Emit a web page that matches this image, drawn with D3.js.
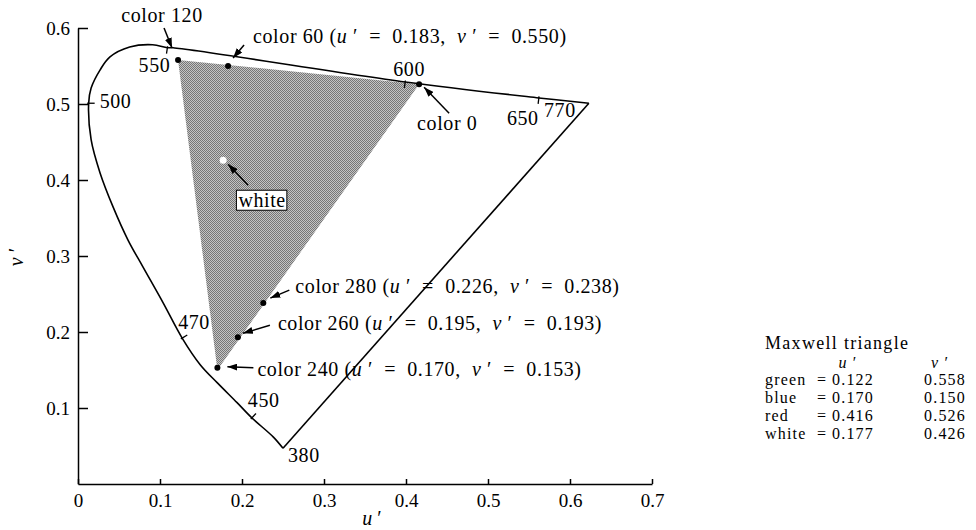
<!DOCTYPE html>
<html>
<head>
<meta charset="utf-8">
<script src="https://cdn.jsdelivr.net/npm/d3@7"></script>
<style>
  body { margin: 0; background: #fff; }
  svg { display: block; font-family: "Liberation Serif", "Times New Roman", serif; }
  text { white-space: pre; }
</style>
</head>
<body>
<div id="chart"></div>
<script>

// spectral locus as drawn in the figure, 380 nm round to 770 nm
var locusU = [0.250, 0.238, 0.212, 0.194, 0.170, 0.149, 0.127, 0.104, 0.079, 0.061, 0.043, 0.027, 0.016,
              0.013, 0.016, 0.027, 0.039, 0.063, 0.091, 0.109, 0.116, 0.399, 0.562, 0.623];
var locusV = [0.047, 0.062, 0.087, 0.107, 0.133, 0.157, 0.192, 0.238, 0.286, 0.321, 0.364, 0.409, 0.453,
              0.501, 0.521, 0.545, 0.562, 0.575, 0.578, 0.574, 0.574, 0.529, 0.508, 0.501];

// wavelength marks (nm) along the locus
var markNm = [380, 450, 470, 500, 550, 600, 650, 770];
var markU  = [0.250, 0.212, 0.127, 0.013, 0.109, 0.399, 0.562, 0.623];
var markV  = [0.047, 0.087, 0.192, 0.501, 0.574, 0.529, 0.508, 0.501];

// Maxwell triangle
var primNames = ["green", "blue", "red", "white"];
var primU = [0.122, 0.170, 0.416, 0.177];
var primV = [0.558, 0.150, 0.526, 0.426];

// labelled colours
var colorNames = ["color 120", "color 60", "color 0", "color 280", "color 260", "color 240"];
var colorU = [0.122, 0.183, 0.416, 0.226, 0.195, 0.170];
var colorV = [0.558, 0.550, 0.526, 0.238, 0.193, 0.153];
var colorShowUV = [false, true, false, true, true, true];

var xTicks = [0, 0.1, 0.2, 0.3, 0.4, 0.5, 0.6, 0.7];
var yTicks = [0.1, 0.2, 0.3, 0.4, 0.5, 0.6];

var width = 976, height = 530;

var svg = d3.select("#chart")
  .append("svg")
    .attr("width", width)
    .attr("height", height);

var x = d3.scaleLinear().domain([0, 0.7]).range([78, 652]);
var y = d3.scaleLinear().domain([0, 0.6]).range([484, 28]);

// halftone for the triangle
var defs = svg.append("defs");
var pat = defs.append("pattern")
    .attr("id", "dots")
    .attr("width", 2).attr("height", 2)
    .attr("patternUnits", "userSpaceOnUse");
pat.append("rect").attr("width", 2).attr("height", 2).attr("fill", "#c4c4c4");
pat.append("rect").attr("width", 1).attr("height", 1).attr("fill", "#767676").attr("shape-rendering", "crispEdges");
pat.append("rect").attr("x", 1).attr("y", 1).attr("width", 1).attr("height", 1).attr("fill", "#767676")
    .attr("shape-rendering", "crispEdges");

defs.append("marker")
    .attr("id", "head")
    .attr("markerUnits", "userSpaceOnUse")
    .attr("viewBox", "0 0 10 7")
    .attr("markerWidth", 10).attr("markerHeight", 7)
    .attr("refX", 10).attr("refY", 3.5)
    .attr("orient", "auto")
  .append("path")
    .attr("d", "M0,0 L10,3.5 L0,7 Z")
    .attr("fill", "#000");

// axes
var xAxis = svg.append("g")
    .attr("transform", "translate(0," + y(0) + ")")
    .call(d3.axisBottom(x).tickValues(xTicks).tickSizeInner(-5).tickSizeOuter(0).tickPadding(10)
      .tickFormat(function(d) { return String(d); }));
var yAxis = svg.append("g")
    .attr("transform", "translate(" + x(0) + ",0)")
    .call(d3.axisLeft(y).tickValues(yTicks).tickSizeInner(-10).tickSizeOuter(0).tickPadding(8)
      .tickFormat(d3.format(".1f")));
[xAxis, yAxis].forEach(function(g) {
  g.attr("font-family", null).attr("font-size", 19);
  g.selectAll("path, line").attr("stroke", "#000").attr("stroke-width", 1.5);
  g.selectAll("text").attr("fill", "#000");
});

svg.append("text")
    .attr("x", 372).attr("y", 518)
    .attr("text-anchor", "middle").attr("dominant-baseline", "central")
    .attr("font-size", 20)
  .call(function(t) {
    t.append("tspan").attr("font-style", "italic").text("u");
    t.append("tspan").text(" ′");
  });
svg.append("text")
    .attr("transform", "translate(16,257) rotate(-90)")
    .attr("text-anchor", "middle").attr("dominant-baseline", "central")
    .attr("font-size", 20)
  .call(function(t) {
    t.append("tspan").attr("font-style", "italic").text("v");
    t.append("tspan").text(" ′");
  });

// Maxwell triangle, shaded
var tri = [0, 1, 2].map(function(i) { return [x(primU[i]), y(primV[i])]; });
svg.append("path")
    .attr("d", "M" + tri.join("L") + "Z")
    .attr("fill", "url(#dots)");

// spectral locus + line of purples
var locus = locusU.map(function(u, i) { return [x(u), y(locusV[i])]; });
svg.append("path")
    .attr("d", d3.line().curve(d3.curveCatmullRom)(locus))
    .attr("fill", "none").attr("stroke", "#000").attr("stroke-width", 1.6);
svg.append("path")
    .attr("d", d3.line()([locus[0], locus[locus.length - 1]]))
    .attr("fill", "none").attr("stroke", "#000").attr("stroke-width", 1.6);

// wavelength ticks, normal to the locus pointing inside
var markLabel = { 380: [5, 7, "start"], 450: [-4, -18, "start"], 470: [-4, -16, "start"],
                  500: [11, -2, "start"], 550: [3, 17, "end"], 600: [4, -13, "middle"],
                  650: [-16, 20, "middle"], 770: [-29, 7, "middle"] };
markNm.forEach(function(nm, i) {
  var px = x(markU[i]), py = y(markV[i]);
  if (nm !== 380 && nm !== 770) {
    var best = 0;
    locus.forEach(function(p, j) {
      if (Math.hypot(p[0] - px, p[1] - py) < Math.hypot(locus[best][0] - px, locus[best][1] - py)) best = j;
    });
    var a = locus[Math.max(best - 1, 0)], b = locus[Math.min(best + 1, locus.length - 1)];
    var dx = b[0] - a[0], dy = b[1] - a[1], len = Math.hypot(dx, dy);
    var nx = -dy / len, ny = dx / len;
    svg.append("line")
        .attr("x1", px - nx * 1.5).attr("y1", py - ny * 1.5)
        .attr("x2", px + nx * 6).attr("y2", py + ny * 6)
        .attr("stroke", "#000").attr("stroke-width", 1.3);
  }
  var o = markLabel[nm];
  svg.append("text")
      .attr("x", px + o[0]).attr("y", py + o[1])
      .attr("text-anchor", o[2]).attr("dominant-baseline", "central")
      .attr("font-size", 20).attr("letter-spacing", 0.6)
      .text(nm);
});

// labelled colours: dot, arrow, text
var colorLayout = {
  "color 120": { tail: [-14, -32], tip: [-6, -12], text: [-16, -45], anchor: "middle" },
  "color 60":  { tail: [16, -21], tip: [5, -8], text: [25, -30], anchor: "start" },
  "color 0":   { tail: [30, 29], tip: [5, 3], text: [-2, 39], anchor: "start" },
  "color 280": { tail: [26, -13], tip: [7, -5], text: [32, -17], anchor: "start" },
  "color 260": { tail: [32, -12], tip: [5, -4], text: [40, -14], anchor: "start" },
  "color 240": { tail: [36, 0], tip: [10, -1], text: [40, 1], anchor: "start" }
};
colorNames.forEach(function(name, i) {
  var px = x(colorU[i]), py = y(colorV[i]), L = colorLayout[name];
  svg.append("circle").attr("cx", px).attr("cy", py).attr("r", 3).attr("fill", "#000");
  svg.append("line")
      .attr("x1", px + L.tail[0]).attr("y1", py + L.tail[1])
      .attr("x2", px + L.tip[0]).attr("y2", py + L.tip[1])
      .attr("stroke", "#000").attr("stroke-width", 1.5)
      .attr("marker-end", "url(#head)");
  var t = svg.append("text")
      .attr("x", px + L.text[0]).attr("y", py + L.text[1])
      .attr("text-anchor", L.anchor).attr("dominant-baseline", "central")
      .attr("font-size", 20).attr("letter-spacing", 0.6);
  if (colorShowUV[i]) {
    t.append("tspan").text(name + " (");
    t.append("tspan").attr("font-style", "italic").text("u");
    t.append("tspan").text(" ′  =  " + colorU[i].toFixed(3) + ",  ");
    t.append("tspan").attr("font-style", "italic").text("v");
    t.append("tspan").text(" ′  =  " + colorV[i].toFixed(3) + ")");
  } else {
    t.text(name);
  }
});

// white point
var wx = x(primU[3]), wy = y(primV[3]);
svg.append("circle").attr("cx", wx).attr("cy", wy).attr("r", 3.5).attr("fill", "#fff");
svg.append("line")
    .attr("x1", wx + 25).attr("y1", wy + 25)
    .attr("x2", wx + 5).attr("y2", wy + 4)
    .attr("stroke", "#000").attr("stroke-width", 1.5)
    .attr("marker-end", "url(#head)");
var wbox = svg.append("rect").attr("fill", "#fff").attr("stroke", "#000").attr("stroke-width", 1);
var wtext = svg.append("text")
    .attr("x", wx + 39).attr("y", wy + 40)
    .attr("text-anchor", "middle").attr("dominant-baseline", "central")
    .attr("font-size", 20).attr("letter-spacing", 0.6)
    .text(primNames[3]);
var bb = wtext.node().getBBox();
wbox.attr("x", bb.x - 2).attr("y", bb.y + 1).attr("width", bb.width + 3).attr("height", bb.height - 2);

// Maxwell triangle table
var leg = svg.append("g").attr("font-size", 16).attr("letter-spacing", 1.2);
leg.append("text").attr("x", 765).attr("y", 349).attr("font-size", 18).attr("letter-spacing", 1.3)
    .text("Maxwell triangle");
[["u", 848], ["v", 940]].forEach(function(h) {
  var t = leg.append("text").attr("x", h[1]).attr("y", 367.5).attr("text-anchor", "middle");
  t.append("tspan").attr("font-style", "italic").text(h[0]);
  t.append("tspan").text(" ′");
});
primNames.forEach(function(name, i) {
  var by = 385.3 + i * 17.8;
  leg.append("text").attr("x", 765).attr("y", by).text(name);
  leg.append("text").attr("x", 817).attr("y", by).text("=");
  leg.append("text").attr("x", 832).attr("y", by).text(primU[i].toFixed(3));
  leg.append("text").attr("x", 924).attr("y", by).text(primV[i].toFixed(3));
});

</script>
</body>
</html>
